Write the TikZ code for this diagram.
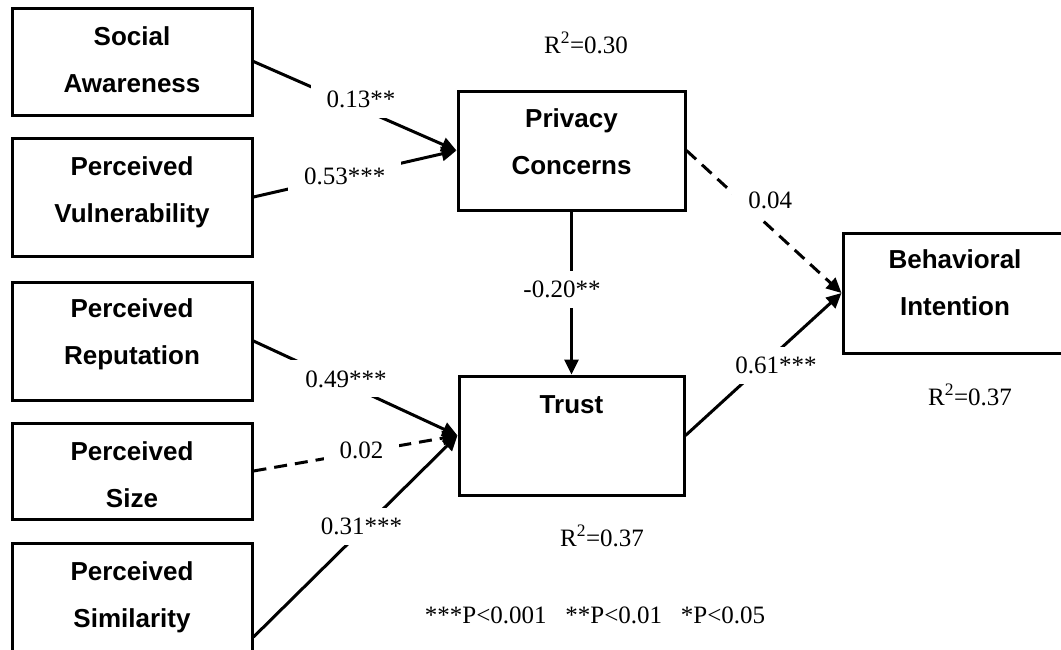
\documentclass[tikz,border=0pt]{standalone}
\usepackage{fontspec}
\setmainfont{Liberation Serif}
\newfontfamily\boxfont{Liberation Sans}
\usetikzlibrary{arrows.meta}
\begin{document}
\begin{tikzpicture}[x=1pt,y=-1pt,line width=3pt,
    construct/.style={draw,align=center,inner sep=0pt,minimum width=240pt,
      text depth=10pt,font=\boxfont\bfseries\fontsize{26}{47}\selectfont},
    coef/.style={fill=white,inner xsep=16pt,inner ysep=10pt,
      font=\fontsize{25}{30}\selectfont},
    note/.style={anchor=base,font=\fontsize{25}{30}\selectfont},
    weak/.style={dash pattern=on 13pt off 8pt}]
  \useasboundingbox (0,0) rectangle (1061,649);
  \node[construct,minimum height=107pt,text height=71pt] (aware) at (132,61.5) {Social\\Awareness};
  \node[construct,minimum height=118pt,text height=60pt] (vuln) at (132,197) {Perceived\\Vulnerability};
  \node[construct,minimum height=118pt,text height=56pt] (reput) at (132,341) {Perceived\\Reputation};
  \node[construct,minimum height=96pt,text height=82pt] (psize) at (132,471) {Perceived\\Size};
  \node[construct,minimum height=108pt,text height=70pt] (simil) at (132,597) {Perceived\\Similarity};
  \node[construct,minimum width=227pt,minimum height=119pt,text height=57pt] (privacy) at (571.5,150.5) {Privacy\\Concerns};
  \node[construct,minimum width=225pt,minimum height=119pt,text height=20pt,text depth=65pt] (trust) at (571.5,435.5) {Trust};
  \node[construct,minimum width=224pt,minimum height=120pt,text height=54pt] (intent) at (955,293) {Behavioral\\Intention};
  \node[note] (r2privacy) at (586,53) {R\textsuperscript{2}=0.30};
  \node[note] (r2trust) at (602,546) {R\textsuperscript{2}=0.37};
  \node[note] (r2intent) at (970,405) {R\textsuperscript{2}=0.37};
  \node[note] (signif) at (595,623) {***P<0.001\hspace{0.75em}**P<0.01\hspace{0.75em}*P<0.05};
  \begin{scope}[-{Triangle[length=15pt,width=14pt]}]
    \draw (aware.east) to node[coef,pos=0.53,yshift=9pt] {0.13**} (privacy.west);
    \draw (vuln.east) to node[coef,pos=0.45] {0.53***} (privacy.west);
    \draw (privacy.south) to node[coef,pos=0.48,xshift=-9.5pt] {-0.20**} (trust.north);
    \draw[weak] (privacy.east) to node[coef,pos=0.54,yshift=27pt] {0.04} (intent.west);
    \draw (trust.east) to node[coef,pos=0.58,yshift=-13pt] {0.61***} (intent.west);
    \draw (reput.east) to node[coef,pos=0.454,yshift=5pt] {0.49***} (trust.west);
    \draw[weak] (psize.east) to node[coef,pos=0.53,yshift=2pt] {0.02} (trust.west);
    \draw ([yshift=-40pt]simil.east) to node[coef,pos=0.53,yshift=4pt] {0.31***} (trust.west);
  \end{scope}
\end{tikzpicture}
\end{document}
